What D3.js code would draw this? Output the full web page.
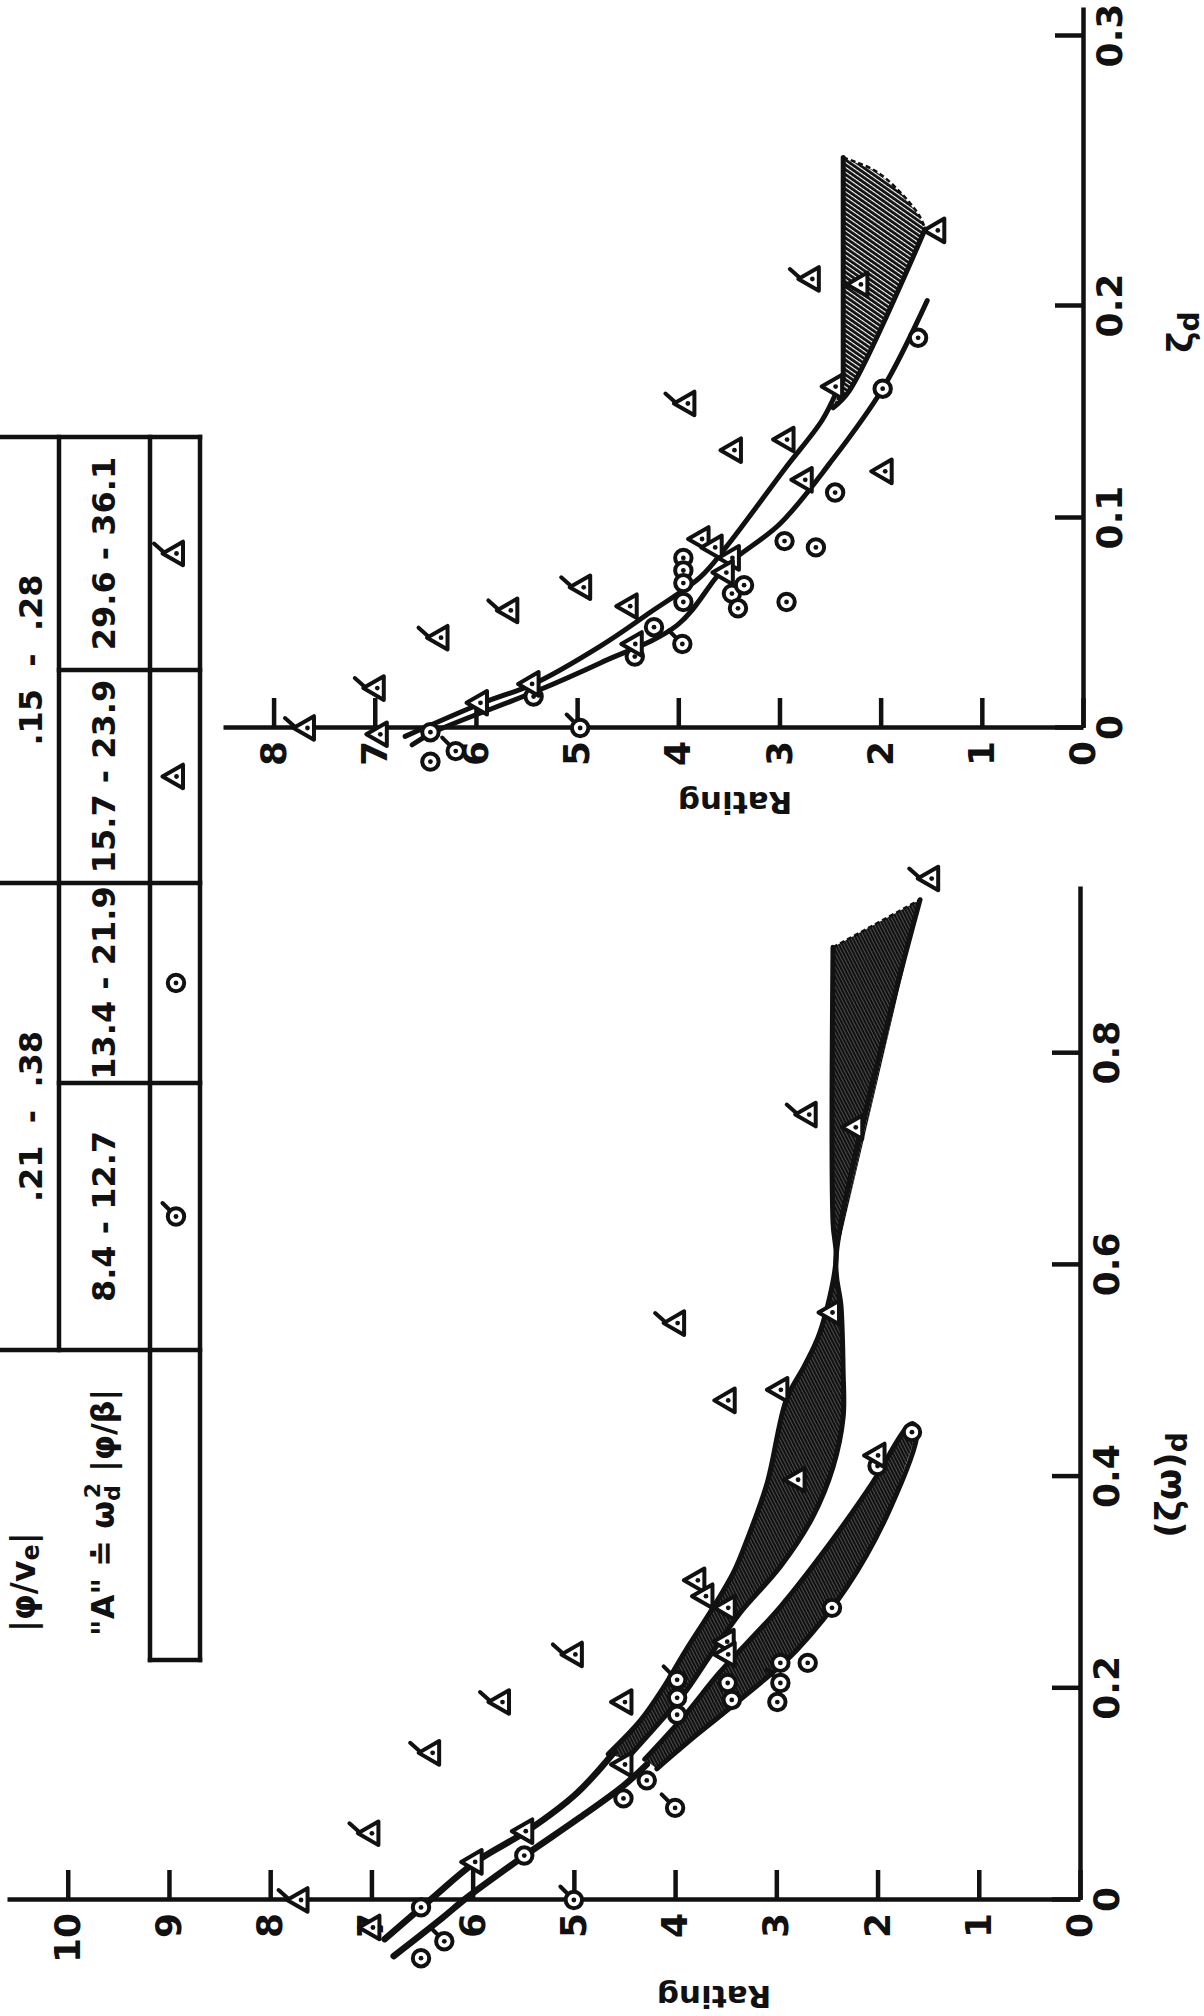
<!DOCTYPE html>
<html>
<head>
<meta charset="utf-8">
<script src="https://cdn.jsdelivr.net/npm/d3@7"></script>
<style>
  html, body { margin: 0; padding: 0; background: #fff; }
  svg { display: block; }
</style>
</head>
<body>
<svg id="chart" width="1204" height="2016"></svg>
<script>
// ---------------- data ----------------
// Every point is [rating, damping]

// tick values
const ratingTicksLeft  = [0, 1, 2, 3, 4, 5, 6, 7, 8, 9, 10];
const ratingTicksRight = [0, 1, 2, 3, 4, 5, 6, 7, 8];
const zetaOmegaTicks   = [0, 0.2, 0.4, 0.6, 0.8];
const zetaTicks        = [0, 0.1, 0.2, 0.3];

// table contents
const phiVeRanges = [".21  -  .38", ".15  -  .28"];
const aRanges     = ["8.4 - 12.7", "13.4 - 21.9", "15.7 - 23.9", "29.6 - 36.1"];
const aSymbols    = ["flagCircle", "circle", "triangle", "flagTriangle"];

// left panel: rating vs (ζω)d
const leftFlagCircle   = [[4.0, 0.087], [5.0, 0.0], [6.28, -0.039], [3.98, 0.208], [2.96, 0.205]];
const leftCircle       = [[5.49, 0.042], [4.28, 0.113], [4.51, 0.096], [3.98, 0.191], [3.98, 0.175],
                          [3.48, 0.205], [3.44, 0.189], [2.96, 0.224], [2.99, 0.187], [2.69, 0.224],
                          [2.45, 0.276], [2.0, 0.41], [1.66, 0.442], [6.51, -0.055], [6.51, -0.007]];
const leftTriangle     = [[5.98, 0.036], [5.48, 0.065], [4.5, 0.187], [4.5, 0.128], [3.78, 0.302],
                          [3.7, 0.287], [3.48, 0.276], [3.49, 0.244], [3.48, 0.232], [2.0, 0.42],
                          [2.79, 0.397], [2.96, 0.482], [3.48, 0.472], [2.45, 0.555], [2.22, 0.73],
                          [6.99, -0.026]];
const leftFlagTriangle = [[7.7, 0.0], [7.0, 0.063], [6.4, 0.139], [5.71, 0.187], [4.99, 0.232],
                          [3.98, 0.545], [2.68, 0.742], [1.47, 0.965]];

// left panel faired curves and shaded bands
const leftTriCurve  = [[6.87, -0.037], [6.42, 0.0], [5.97, 0.036], [5.45, 0.066], [4.97, 0.101], [4.6, 0.14]];
const leftCircCurve = [[6.78, -0.053], [6.3, -0.017], [6.06, 0.002], [5.5, 0.041], [4.94, 0.078],
                       [4.51, 0.108], [4.28, 0.128]];
const leftTriBandHigh = [[4.66, 0.138], [4.34, 0.17], [4.12, 0.2], [3.9, 0.235], [3.62, 0.277], [3.42, 0.31],
                         [3.29, 0.34], [3.09, 0.394], [2.9, 0.473], [2.72, 0.505], [2.57, 0.536],
                         [2.41, 0.605], [2.44, 0.64], [2.44, 0.9]];
const leftTriBandLow  = [[1.58, 0.945], [2.41, 0.607], [2.36, 0.56], [2.34, 0.5], [2.34, 0.456],
                         [2.44, 0.409], [2.64, 0.362], [2.96, 0.315], [3.36, 0.271], [3.66, 0.23],
                         [3.91, 0.195], [4.18, 0.165], [4.48, 0.133]];
const leftCircBandHigh = [[4.3, 0.133], [3.9, 0.175], [3.56, 0.215], [2.96, 0.277], [2.47, 0.337],
                          [2.05, 0.394], [1.73, 0.444], [1.65, 0.45]];
const leftCircBandLow  = [[1.61, 0.441], [1.88, 0.369], [2.3, 0.296], [2.8, 0.236], [3.36, 0.189],
                          [3.8, 0.155], [4.18, 0.124]];

// right panel: rating vs ζd
const rightFlagCircle   = [[3.96, 0.04], [4.97, 0.0], [6.2, -0.011]];
const rightCircle       = [[5.43, 0.015], [4.43, 0.034], [4.24, 0.048], [3.95, 0.081], [3.95, 0.075],
                           [3.95, 0.069], [3.95, 0.06], [3.47, 0.064], [3.35, 0.068], [3.41, 0.057],
                           [2.95, 0.089], [2.64, 0.086], [2.93, 0.06], [2.45, 0.112], [1.98, 0.161],
                           [1.63, 0.185], [6.45, -0.002], [6.45, -0.016]];
const rightTriangle     = [[4.48, 0.058], [5.45, 0.021], [5.96, 0.012], [4.43, 0.04], [3.77, 0.09],
                           [3.64, 0.086], [3.47, 0.081], [3.53, 0.074], [2.75, 0.118], [1.96, 0.122],
                           [3.45, 0.132], [2.93, 0.137], [2.45, 0.162], [2.2, 0.208], [1.44, 0.228],
                           [6.95, -0.003]];
const rightFlagTriangle = [[7.67, 0.0], [6.98, 0.019], [6.35, 0.043], [5.66, 0.056], [4.94, 0.067],
                           [3.91, 0.154], [2.68, 0.21]];

const rightTriCurve  = [[6.7, -0.004], [5.93, 0.012], [5.43, 0.021], [4.77, 0.039], [4.28, 0.055],
                        [3.78, 0.072], [3.53, 0.086], [2.95, 0.123], [2.58, 0.146], [2.45, 0.158]];
const rightCircCurve = [[6.63, -0.008], [6.42, -0.002], [5.43, 0.017], [4.77, 0.031], [4.01, 0.049],
                        [3.53, 0.077], [3.0, 0.097], [2.5, 0.126], [1.98, 0.161], [1.54, 0.202]];
const rightBandHigh = [[2.37, 0.165], [2.37, 0.255]];
const rightBandTop  = [[2.37, 0.255], [2.05, 0.25], [1.79, 0.2415], [1.61, 0.233], [1.56, 0.2285]];
const rightBandLow  = [[1.56, 0.2285], [2.31, 0.16], [2.47, 0.152]];

// ---------------- drawing ----------------
const INK = "#111";
const FONT = '"DejaVu Sans", "Liberation Sans", sans-serif';
const svg = d3.select("#chart");
svg.append("rect").attr("width", 1204).attr("height", 2016).attr("fill", "#fff");

const defs = svg.append("defs");
function hatch(id, period, bar, angle) {
  defs.append("pattern")
    .attr("id", id)
    .attr("patternUnits", "userSpaceOnUse")
    .attr("width", period).attr("height", period)
    .attr("patternTransform", `rotate(${angle})`)
    .append("rect")
    .attr("width", period).attr("height", bar).attr("fill", INK);
}
hatch("hatchLeft", 3.0, 2.75, -27);
hatch("hatchRight", 4.0, 2.9, -55);

// the sheet is laid out in landscape and turned a quarter turn onto the page
const sheet = svg.append("g").attr("transform", "translate(0,2016) rotate(-90)");

// scales
const xL = d3.scaleLinear().domain([0, 0.957]).range([116, 1129]);
const yL = d3.scaleLinear().domain([0, 10.6]).range([1080, 7]);
const xR = d3.scaleLinear().domain([0, 0.1, 0.2, 0.3, 0.31]).range([1288, 1498, 1710, 1980, 2008]);
const yR = d3.scaleLinear().domain([0, 8.5]).range([1083, 223]);

function styleAxis(g) {
  g.attr("font-family", FONT).attr("font-size", 36).attr("font-weight", "bold");
  g.select(".domain").attr("stroke", INK).attr("stroke-width", 4.5);
  g.selectAll(".tick line").attr("stroke", INK).attr("stroke-width", 4.5);
  g.selectAll(".tick text").attr("fill", INK);
}

function drawAxes(x, y, xTicks, yTicks, xFmt) {
  sheet.append("g")
    .attr("transform", `translate(0,${y(0)})`)
    .call(d3.axisBottom(x).tickValues(xTicks).tickSizeInner(-28).tickSizeOuter(0)
      .tickPadding(13).tickFormat(xFmt))
    .call(styleAxis);
  sheet.append("g")
    .attr("transform", `translate(${x(0)},0)`)
    .call(d3.axisLeft(y).tickValues(yTicks).tickSizeInner(-30).tickSizeOuter(0)
      .tickPadding(13).tickFormat(d3.format("d")))
    .call(styleAxis);
}

const fmtDamp = d => d === 0 ? "0" : d3.format(".1f")(d);
drawAxes(xL, yL, zetaOmegaTicks, ratingTicksLeft, fmtDamp);
drawAxes(xR, yR, zetaTicks, ratingTicksRight, fmtDamp);

// bands and curves
function drawPanel(x, y, o) {
  const line = d3.line().x(d => x(d[1])).y(d => y(d[0]));
  const smooth = d3.line().x(d => x(d[1])).y(d => y(d[0])).curve(d3.curveCatmullRom);
  o.bands.forEach(b => {
    sheet.append("path")
      .attr("d", line(b.outline) + "Z")
      .attr("fill", `url(#${o.hatch})`)
      .attr("stroke", "none");
    b.solid.forEach(edge => sheet.append("path")
      .attr("d", smooth(edge)).attr("fill", "none")
      .attr("stroke", INK).attr("stroke-width", o.edgeWidth)
      .attr("stroke-linejoin", "round").attr("stroke-linecap", "round"));
    (b.dashed || []).forEach(edge => sheet.append("path")
      .attr("d", smooth(edge)).attr("fill", "none")
      .attr("stroke", INK).attr("stroke-width", 2.5).attr("stroke-dasharray", "5 3"));
  });
  o.curves.forEach(c => sheet.append("path")
    .attr("d", smooth(c)).attr("fill", "none")
    .attr("stroke", INK).attr("stroke-width", o.curveWidth)
    .attr("stroke-linecap", "round"));
}

drawPanel(xL, yL, {
  hatch: "hatchLeft", edgeWidth: 5, curveWidth: 6.5,
  curves: [leftTriCurve, leftCircCurve],
  bands: [
    { outline: leftTriBandHigh.concat(leftTriBandLow),
      solid: [leftTriBandHigh, leftTriBandLow],
      dashed: [[leftTriBandHigh[leftTriBandHigh.length - 1], leftTriBandLow[0]]] },
    { outline: leftCircBandHigh.concat(leftCircBandLow),
      solid: [leftCircBandHigh.concat(leftCircBandLow)] }
  ]
});

drawPanel(xR, yR, {
  hatch: "hatchRight", edgeWidth: 5, curveWidth: 5,
  curves: [rightTriCurve, rightCircCurve],
  bands: [
    { outline: rightBandHigh.concat(rightBandTop.slice(1), rightBandLow.slice(1)),
      solid: [rightBandHigh, rightBandLow],
      dashed: [rightBandTop] }
  ]
});

// plotting symbols
function drawSymbol(g, type) {
  const isTri = type === "triangle" || type === "flagTriangle";
  if (isTri) {
    g.append("path").attr("d", "M0,-13.5L11.8,7L-11.8,7Z")
      .attr("fill", "#fff").attr("stroke", INK).attr("stroke-width", 4)
      .attr("stroke-linejoin", "round");
    if (type === "flagTriangle") g.append("line")
      .attr("x1", 2).attr("y1", -13).attr("x2", 10).attr("y2", -22)
      .attr("stroke", INK).attr("stroke-width", 4).attr("stroke-linecap", "round");
  } else {
    g.append("circle").attr("r", 8.2)
      .attr("fill", "#fff").attr("stroke", INK).attr("stroke-width", 4);
    if (type === "flagCircle") g.append("line")
      .attr("x1", 6.5).attr("y1", -6.5).attr("x2", 13.5).attr("y2", -13.5)
      .attr("stroke", INK).attr("stroke-width", 4).attr("stroke-linecap", "round");
  }
  g.append("circle").attr("cy", isTri ? 0.5 : 0).attr("r", 2.4).attr("fill", INK);
}

function drawPoints(x, y, pts, type) {
  sheet.append("g").selectAll("g")
    .data(pts)
    .join("g")
    .attr("transform", d => `translate(${x(d[1])},${y(d[0])})`)
    .each(function () { drawSymbol(d3.select(this), type); });
}

[[leftCircle, "circle"], [leftFlagCircle, "flagCircle"],
 [leftTriangle, "triangle"], [leftFlagTriangle, "flagTriangle"]]
  .forEach(([p, t]) => drawPoints(xL, yL, p, t));
[[rightCircle, "circle"], [rightFlagCircle, "flagCircle"],
 [rightTriangle, "triangle"], [rightFlagTriangle, "flagTriangle"]]
  .forEach(([p, t]) => drawPoints(xR, yR, p, t));

// axis titles
function label(x, y, size, rotate, parts) {
  const t = sheet.append("text")
    .attr("x", x).attr("y", y)
    .attr("font-family", FONT).attr("font-weight", "bold").attr("font-size", size)
    .attr("fill", INK).attr("text-anchor", "middle").attr("dominant-baseline", "central");
  if (rotate) t.attr("transform", `rotate(${rotate},${x},${y})`);
  parts.forEach(p => {
    const s = t.append("tspan").text(p.t);
    if (p.dy !== undefined) s.attr("dy", p.dy);
    if (p.dx !== undefined) s.attr("dx", p.dx);
    if (p.size) s.attr("font-size", p.size);
  });
  return t;
}
label(531, 1168, 36, 0, [{ t: "(ζω)" }, { t: "d", dy: 9, size: 28 }]);
label(1684, 1180, 36, 0, [{ t: "ζ" }, { t: "d", dy: 9, size: 28 }]);
label(19, 714, 31, -90, [{ t: "Rating" }]);
label(1213, 735, 31, -90, [{ t: "Rating" }]);

// ---------------- table ----------------
const tbl = sheet.append("g")
  .attr("stroke", INK).attr("stroke-width", 4.5).attr("stroke-linecap", "square");
const colEdges = [356, 666, 933, 1133, 1346, 1579];   // cell boundaries along the row
const rowEdges = [59, 150, 200];                       // row boundaries
const hLines = [
  [666, 1579, rowEdges[0]],
  [356, 1579, rowEdges[1]],
  [356, 1579, rowEdges[2]]
];
hLines.forEach(([a, b, yy]) => tbl.append("line").attr("x1", a).attr("x2", b).attr("y1", yy).attr("y2", yy));
const vLines = [
  [colEdges[0], rowEdges[1], rowEdges[2]],
  [colEdges[1], 0, rowEdges[2]],
  [colEdges[2], rowEdges[0], rowEdges[2]],
  [colEdges[3], 0, rowEdges[2]],
  [colEdges[4], rowEdges[0], rowEdges[2]],
  [colEdges[5], 0, rowEdges[2]]
];
vLines.forEach(([xx, a, b]) => tbl.append("line").attr("x1", xx).attr("x2", xx).attr("y1", a).attr("y2", b));

// header texts
const hdr1 = sheet.append("text").attr("x", 384).attr("y", 23)
  .attr("font-family", FONT).attr("font-weight", "bold").attr("font-size", 33)
  .attr("fill", INK).attr("dominant-baseline", "central");
hdr1.append("tspan").text("|φ/v");
hdr1.append("tspan").text("e").attr("font-size", 24).attr("dy", 8);
hdr1.append("tspan").text("|").attr("dy", -8);

const hdr2 = sheet.append("text").attr("x", 380).attr("y", 103)
  .attr("font-family", FONT).attr("font-weight", "bold").attr("font-size", 32)
  .attr("fill", INK).attr("dominant-baseline", "central");
hdr2.append("tspan").text("\"A\" ≐ ω");
hdr2.append("tspan").text("d").attr("font-size", 22).attr("dy", 9);
hdr2.append("tspan").text("2").attr("font-size", 22).attr("dx", -13).attr("dy", -20);
hdr2.append("tspan").text(" |φ/β|").attr("dy", 11);

// row 1: |φ/ve| ranges, each spanning two columns
const spanCenters = [(colEdges[1] + colEdges[3]) / 2, (colEdges[3] + colEdges[5]) / 2];
sheet.append("g").selectAll("text").data(phiVeRanges).join("text")
  .attr("x", (d, i) => spanCenters[i]).attr("y", 31)
  .attr("font-family", FONT).attr("font-weight", "bold").attr("font-size", 32)
  .attr("fill", INK).attr("text-anchor", "middle").attr("dominant-baseline", "central")
  .style("white-space", "pre")
  .text(d => d);

// row 2: "A" ranges
const cellCenters = d3.range(4).map(i => (colEdges[i + 1] + colEdges[i + 2]) / 2);
sheet.append("g").selectAll("text").data(aRanges).join("text")
  .attr("x", (d, i) => cellCenters[i]).attr("y", 104)
  .attr("font-family", FONT).attr("font-weight", "bold").attr("font-size", 32)
  .attr("fill", INK).attr("text-anchor", "middle").attr("dominant-baseline", "central")
  .text(d => d);

// row 3: symbols
aSymbols.forEach((t, i) => {
  const g = sheet.append("g").attr("transform", `translate(${cellCenters[i]},176)`);
  drawSymbol(g, t);
});
</script>
</body>
</html>
